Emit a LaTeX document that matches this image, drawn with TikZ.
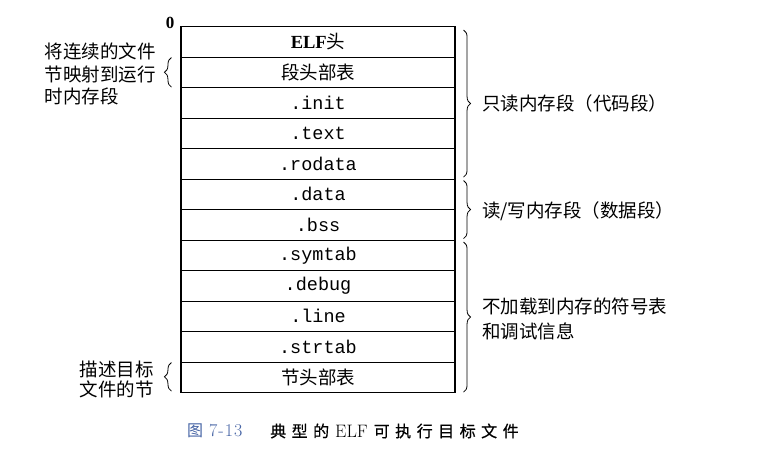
\documentclass[tikz,border=0pt]{standalone}
\usepackage{fontspec}
\setmonofont{Liberation Mono}
\newfontfamily\cjk{Noto Sans CJK SC}
\newfontfamily\cjkb[FakeBold=0.5]{Noto Sans CJK SC}
\newfontfamily\tnr{Liberation Serif}
\usetikzlibrary{decorations.pathreplacing}
\definecolor{capblue}{RGB}{70,100,165}
\newcommand{\gp}{\hspace{5.5pt}}
\begin{document}
\begin{tikzpicture}[x=1pt,y=-1pt,
  row/.style={draw,line width=1.1pt,minimum width=274pt,minimum height=30.5pt,
    inner sep=0pt,anchor=north,font=\fontsize{18.5}{20}\selectfont},
  br/.style={decorate,decoration={brace,amplitude=7pt},line width=0.8pt},
  lbl/.style={font=\cjk\fontsize{18.5}{22.5}\selectfont,align=left,inner sep=0pt}]
\useasboundingbox (0,0) rectangle (783,452);
\fill[white] (0,0) rectangle (783,452);

\node[row] (r1)  at (318,26)    {{\tnr\bfseries ELF}{\cjk 头}};
\node[row] (r2)  at (318,56.5)  {\cjk 段头部表};
\node[row] (r3)  at (318,87)    {\ttfamily .init};
\node[row] (r4)  at (318,117.5) {\ttfamily .text};
\node[row] (r5)  at (318,148)   {\ttfamily .rodata};
\node[row] (r6)  at (318,178.5) {\ttfamily .data};
\node[row] (r7)  at (318,209)   {\ttfamily .bss};
\node[row] (r8)  at (318,239.5) {\ttfamily .symtab};
\node[row] (r9)  at (318,270)   {\ttfamily .debug};
\node[row] (r10) at (318,300.5) {\ttfamily .line};
\node[row] (r11) at (318,331)   {\ttfamily .strtab};
\node[row] (r12) at (318,361.5) {\cjk 节头部表};

\node[font=\tnr\bfseries\fontsize{17}{17}\selectfont,anchor=east,inner sep=0pt] (zero)
  at ([shift={(-6pt,3pt)}]r1.north west) {0};

% left braces
\draw[br] ([shift={(-9pt,1pt)}]r2.south west) -- ([shift={(-9pt,-1pt)}]r2.north west);
\node[lbl,anchor=east] (t1) at (156,74) {将连续的文件\\节映射到运行\\时内存段};
\draw[br] ([shift={(-9pt,2pt)}]r12.south west) -- ([shift={(-9pt,-1pt)}]r12.north west);
\node[lbl,anchor=east,font=\cjk\fontsize{18.5}{20}\selectfont] (t2) at (154,379) {描述目标\\文件的节};

% right braces
\draw[br] ([shift={(8pt,-4pt)}]r1.north east) -- ([shift={(8pt,2.5pt)}]r5.south east);
\node[lbl,anchor=west] (t3) at (482,103) {只读内存段（代码段）};
\draw[br] ([shift={(8pt,-2pt)}]r6.north east) -- ([shift={(8pt,2pt)}]r7.south east);
\node[lbl,anchor=west] (t4) at (482,211) {读/写内存段（数据段）};
\draw[br] ([shift={(8pt,-2.5pt)}]r8.north east) -- ([shift={(8pt,1pt)}]r12.south east);
\node[lbl,anchor=west,font=\cjk\fontsize{18.5}{25}\selectfont] (t5) at (482,318.5) {不加载到内存的符号表\\和调试信息};

% caption
\node[anchor=west,inner sep=0pt,text=capblue,font=\fontsize{18}{18}\selectfont] (capnum)
  at (187,431) {{\cjk\fontsize{16}{16}\selectfont 图}\hspace{6pt}7\hspace{1pt}-\hspace{1pt}1\hspace{1pt}3};
\node[anchor=west,inner sep=0pt,font=\fontsize{18}{18}\selectfont] (captxt)
  at (270,431) {{\cjkb\fontsize{16}{16}\selectfont 典\gp 型\gp 的}\hspace{6pt}ELF\hspace{6pt}{\cjkb\fontsize{16}{16}\selectfont 可\gp 执\gp 行\gp 目\gp 标\gp 文\gp 件}};
\end{tikzpicture}
\end{document}
